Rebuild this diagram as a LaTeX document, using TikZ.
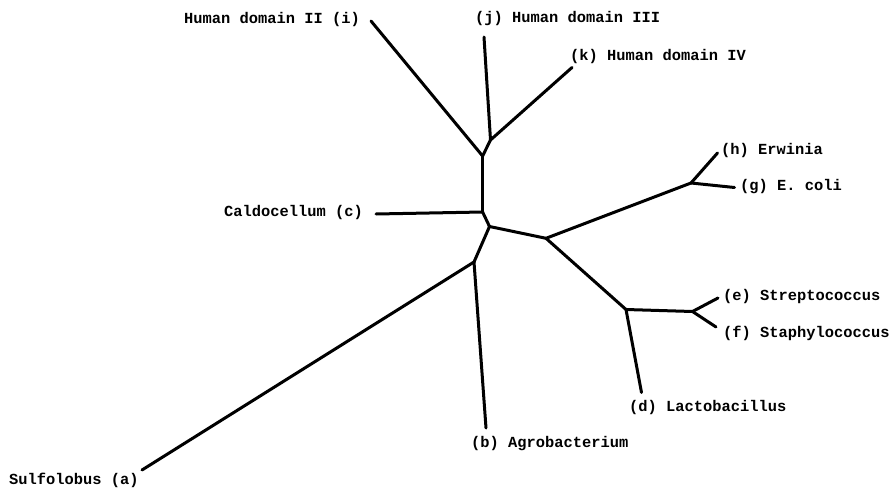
\documentclass[tikz,border=0pt]{standalone}
\usepackage{fontspec}
\setmonofont{Liberation Mono}
\begin{document}
\begin{tikzpicture}[x=1pt,y=-1pt,
  branch/.style={line width=3pt,line join=round,line cap=round},
  lab/.style={inner sep=0pt,anchor=base west,font=\ttfamily\bfseries\fontsize{15.4pt}{17pt}\selectfont}]
\useasboundingbox (0,0) rectangle (891,487);
% junctions
\coordinate (A) at (482.6,156);
\coordinate (F) at (490.5,140);
\coordinate (B) at (482.6,212);
\coordinate (C) at (489.5,226.5);
\coordinate (D) at (546,238.3);
\coordinate (G) at (691,183);
\coordinate (H) at (626,309.5);
\coordinate (I) at (692.5,311.5);
\coordinate (E) at (474,262);
% tips
\coordinate (ti) at (371,21);
\coordinate (tj) at (484,37);
\coordinate (tk) at (572,67.5);
\coordinate (tc) at (376,214);
\coordinate (th) at (717.5,153);
\coordinate (tg) at (734.5,187.5);
\coordinate (te) at (718,298);
\coordinate (tf) at (716,327);
\coordinate (td) at (641.5,392.5);
\coordinate (tb) at (486,428);
\coordinate (ta) at (142,470);
% labels
\node[lab] (li) at (184,23.5) {Human domain II (i)};
\node[lab] (lj) at (475,23) {(j) Human domain III};
\node[lab] (lk) at (570,61) {(k) Human domain IV};
\node[lab] (lc) at (224,216.5) {Caldocellum (c)};
\node[lab] (lh) at (721,154) {(h) Erwinia};
\node[lab] (lg) at (740,190.5) {(g) E. coli};
\node[lab] (le) at (723,300.5) {(e) Streptococcus};
\node[lab] (lf) at (723,337.5) {(f) Staphylococcus};
\node[lab] (ld) at (629,411.5) {(d) Lactobacillus};
\node[lab] (lb) at (471,447.5) {(b) Agrobacterium};
\node[lab] (la) at (9,484.5) {Sulfolobus (a)};
% branches
\draw[branch] (ti) -- (A);
\draw[branch] (tj) -- (F);
\draw[branch] (tk) -- (F);
\draw[branch] (F) -- (A);
\draw[branch] (A) -- (B);
\draw[branch] (tc) -- (B);
\draw[branch] (B) -- (C);
\draw[branch] (C) -- (D);
\draw[branch] (C) -- (E);
\draw[branch] (E) -- (ta);
\draw[branch] (E) -- (tb);
\draw[branch] (D) -- (G);
\draw[branch] (G) -- (th);
\draw[branch] (G) -- (tg);
\draw[branch] (D) -- (H);
\draw[branch] (H) -- (I);
\draw[branch] (I) -- (te);
\draw[branch] (I) -- (tf);
\draw[branch] (H) -- (td);
\end{tikzpicture}
\end{document}
